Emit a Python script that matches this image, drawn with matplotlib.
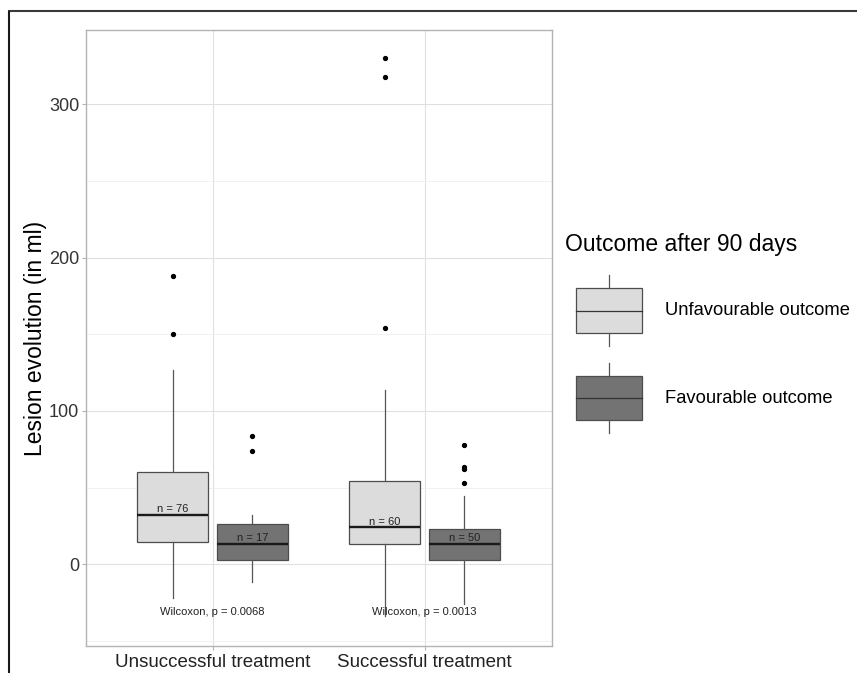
import matplotlib
matplotlib.use("Agg")
import matplotlib.pyplot as plt
from matplotlib.patches import Rectangle

plt.rcParams['font.family'] = ['Liberation Sans', 'DejaVu Sans']

# ---------------- data ----------------
treatments = ["Unsuccessful treatment", "Successful treatment"]
outcomes = ["Unfavourable outcome", "Favourable outcome"]
outcome_colors = ["#dcdcdc", "#737373"]
legend_title = "Outcome after 90 days"
y_label = "Lesion evolution (in ml)"

# boxes in order: (treatment index, outcome index)
box_treatment = [0, 0, 1, 1]
box_outcome = [0, 1, 0, 1]
q1 = [14.4, 2.6, 13.2, 2.9]
medians = [32.2, 13.2, 24.1, 13.5]
q3 = [60.0, 26.3, 54.5, 22.8]
whisker_low = [-22.2, -11.7, -33.5, -26.0]
whisker_high = [126.7, 32.2, 113.8, 44.7]
outliers = [[188.3, 150.0], [83.9, 73.7], [330.5, 317.8, 154.3], [77.7, 63.5, 62.0, 53.2]]
n_counts = [76, 17, 60, 50]
wilcoxon_p = ["0.0068", "0.0013"]
wilcoxon_y = -31.1
y_ticks = [0, 100, 200, 300]
y_minor = [-50, 50, 150, 250]

# ---------------- figure ----------------
W, H = 857, 673
fig = plt.figure(figsize=(W / 100, H / 100), dpi=100)
pl, pr, pt, pb = 85.5, 551.7, 29.7, 646.0
ax = fig.add_axes([pl / W, 1 - pb / H, (pr - pl) / W, (pb - pt) / H])

dodge = 0.375
positions = [t + 1 + (o - 0.5) * dodge for t, o in zip(box_treatment, box_outcome)]
stats = []
for i in range(len(q1)):
    stats.append(dict(med=medians[i], q1=q1[i], q3=q3[i],
                      whislo=whisker_low[i], whishi=whisker_high[i],
                      fliers=outliers[i]))

bp = ax.bxp(stats, positions=positions, widths=0.335, patch_artist=True,
            showcaps=False,
            boxprops=dict(edgecolor="#4d4d4d", linewidth=0.9),
            whiskerprops=dict(color="#555555", linewidth=0.9),
            medianprops=dict(color="#1a1a1a", linewidth=1.7),
            flierprops=dict(marker="o", markersize=2.8, markerfacecolor="black",
                            markeredgecolor="black", linestyle="none"),
            zorder=3)
for box, o in zip(bp["boxes"], box_outcome):
    box.set_facecolor(outcome_colors[o])

for p, m, n in zip(positions, medians, n_counts):
    ax.annotate(f"n = {n}", (p, m), xytext=(0, 0.5), textcoords="offset points",
                ha="center", va="bottom", fontsize=8, color="#222222", zorder=4)

for t, pv in enumerate(wilcoxon_p):
    ax.text(t + 1, wilcoxon_y, f"Wilcoxon, p = {pv}", ha="center", va="center",
            fontsize=8, color="#222222", zorder=4)

ax.set_xlim(0.4, 2.6)
ax.set_ylim(-53.3, 348.7)
ax.set_xticks([1, 2])
ax.set_xticklabels(treatments)
ax.set_yticks(y_ticks)
ax.set_yticks(y_minor, minor=True)
ax.grid(which="major", color="#e0e0e0", linewidth=0.8)
ax.grid(which="minor", axis="y", color="#ececec", linewidth=0.5)
ax.set_axisbelow(True)
for s in ax.spines.values():
    s.set_color("#b3b3b3")
    s.set_linewidth(1.0)
ax.tick_params(axis="both", which="major", length=3, width=0.8, color="#b3b3b3",
               labelsize=13, labelcolor="#333333", pad=1.5)
ax.tick_params(axis="x", which="major", labelsize=13.5, labelcolor="#222222", pad=2.5)
ax.tick_params(which="minor", length=0)

fig.text(36 / W, 1 - 338 / H, y_label, rotation=90, ha="center", va="center",
         fontsize=16.5, color="black")

# ---------------- legend + frame overlay (pixel coords) ----------------
ov = fig.add_axes([0, 0, 1, 1])
ov.set_xlim(0, W)
ov.set_ylim(H, 0)
ov.axis("off")

ov.text(565, 245, legend_title, ha="left", va="center", fontsize=16.5, color="black")
key_tops = [288.3, 376.0]
key_h = 44.4
for i, (lab, col) in enumerate(zip(outcomes, outcome_colors)):
    top = key_tops[i]
    ov.add_patch(Rectangle((575.7, top), 66, key_h, facecolor=col,
                           edgecolor="#4d4d4d", linewidth=0.9))
    cx = 575.7 + 33
    ov.plot([cx, cx], [top - 13, top], color="#555555", lw=0.9)
    ov.plot([cx, cx], [top + key_h, top + key_h + 13], color="#555555", lw=0.9)
    ov.plot([575.7, 641.7], [top + key_h / 2, top + key_h / 2], color="#333333", lw=0.9)
    ov.text(665, top + key_h / 2, lab, ha="left", va="center", fontsize=13.2, color="black")

ov.plot([8, W], [11.3, 11.3], color="#3a3a3a", lw=1.5, solid_capstyle="butt")
ov.plot([9, 9], [10.5, H], color="#1a1a1a", lw=1.5, solid_capstyle="butt")

fig.savefig("out.png", dpi=100)
